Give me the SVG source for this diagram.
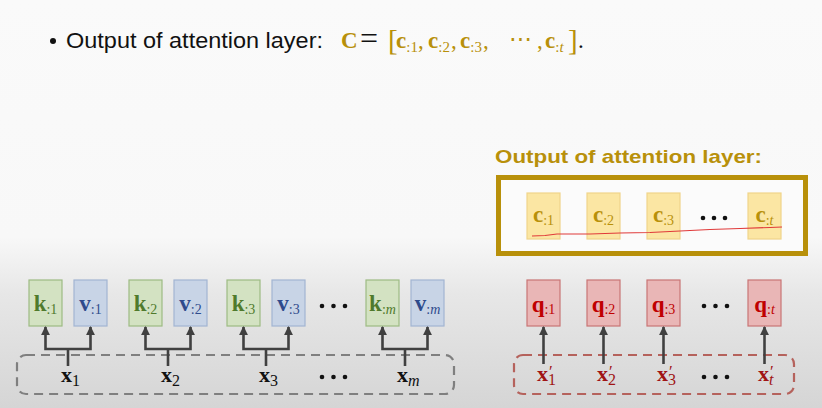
<svg xmlns="http://www.w3.org/2000/svg" width="822" height="408" viewBox="0 0 822 408">
<defs>
<linearGradient id="bg" x1="0" y1="0" x2="0" y2="408" gradientUnits="userSpaceOnUse">
<stop offset="0" stop-color="#FAFAFA"/>
<stop offset="0.58" stop-color="#F8F8F8"/>
<stop offset="0.72" stop-color="#E7E7E7"/>
<stop offset="1" stop-color="#D5D5D5"/>
</linearGradient>
<marker id="ah" viewBox="0 0 10 10" refX="9" refY="5" markerWidth="9" markerHeight="9" markerUnits="userSpaceOnUse" orient="auto">
<path d="M0,0 L10,5 L0,10 z" fill="#404040"/>
</marker>
<style>
.m{font-family:"Liberation Serif","DejaVu Serif",serif;}
.b{font-weight:bold;}
.sub{font-size:14px;font-weight:normal;}
.kb{fill:#D3E2C2;stroke:#9DBB83;stroke-width:1.2;}
.vb{fill:#C8D4E6;stroke:#A2B5D2;stroke-width:1.2;}
.qb{fill:#E9B6B6;stroke:#C97575;stroke-width:1.2;}
.cb{fill:#FBE6A3;stroke:#F0D48A;stroke-width:1.2;}
.kt{fill:#4F7A2C;font-size:23px;}
.vt{fill:#2F4B8C;font-size:23px;}
.qt{fill:#C00000;font-size:23px;}
.ct{fill:#B8900A;font-size:23px;}
.xl{fill:#111;font-size:22px;}
.xr{fill:#A01414;font-size:22px;}
.arr{fill:none;stroke:#404040;stroke-width:2.6;marker-end:url(#ah);}
.stem{fill:none;stroke:#404040;stroke-width:2.6;}
.dot{fill:#111;}
</style>
</defs>
<rect x="0" y="0" width="822" height="408" fill="url(#bg)"/>

<!-- top bullet line -->
<g id="bullet">
<circle cx="53" cy="41" r="3" fill="#111"/>
<text x="66" y="48" font-family="Liberation Sans, Arial, sans-serif" font-size="22" fill="#111" textLength="257" lengthAdjust="spacingAndGlyphs">Output of attention layer:</text>
<g class="m" font-size="23">
<text x="341" y="48" class="b" fill="#B8900A">C</text>
<text x="360" y="49" fill="#111" font-size="32">=</text>
<text x="388" y="50" fill="#B8900A" font-size="29">[</text>
<text x="396" y="48" fill="#B8900A" class="b">c<tspan class="sub" style="font-size:15px" dy="4">:1</tspan></text>
<text x="418" y="48" fill="#B8900A">,</text>
<text x="428" y="48" fill="#B8900A" class="b">c<tspan class="sub" style="font-size:15px" dy="4">:2</tspan></text>
<text x="451" y="48" fill="#B8900A">,</text>
<text x="460" y="48" fill="#B8900A" class="b">c<tspan class="sub" style="font-size:15px" dy="4">:3</tspan></text>
<text x="483" y="48" fill="#B8900A">,</text>
<text x="509" y="46" fill="#B8900A">⋯</text>
<text x="537" y="48" fill="#B8900A">,</text>
<text x="545" y="48" fill="#B8900A" class="b">c<tspan class="sub" style="font-size:15px" dy="4">:<tspan font-style="italic">t</tspan></tspan></text>
<text x="568" y="50" fill="#B8900A" font-size="29">]</text>
<text x="578" y="48" fill="#111">.</text>
</g>
</g>

<!-- output title and box -->
<g id="output-title">
<text x="495" y="163" font-family="Liberation Sans, Arial, sans-serif" font-size="19" font-weight="bold" fill="#B8900A" textLength="267" lengthAdjust="spacingAndGlyphs">Output of attention layer:</text>
</g>
<g id="output-box">
<rect x="498.5" y="177.5" width="307" height="76" fill="#FBFBFB" stroke="#B8900A" stroke-width="5"/>
</g>

<g id="c1"><rect class="cb" x="527" y="193" width="33" height="46"/><text class="m b ct" x="543.5" y="222" text-anchor="middle">c<tspan class="sub" dy="3">:1</tspan></text></g>
<g id="c2"><rect class="cb" x="587" y="193" width="33" height="46"/><text class="m b ct" x="603.5" y="222" text-anchor="middle">c<tspan class="sub" dy="3">:2</tspan></text></g>
<g id="c3"><rect class="cb" x="647" y="193" width="33" height="46"/><text class="m b ct" x="663.5" y="222" text-anchor="middle">c<tspan class="sub" dy="3">:3</tspan></text></g>
<g id="cdots"><circle class="dot" cx="703" cy="218" r="2.3"/><circle class="dot" cx="714" cy="218" r="2.3"/><circle class="dot" cx="725" cy="218" r="2.3"/></g>
<g id="ct"><rect class="cb" x="748" y="193" width="33" height="46"/><text class="m b ct" x="764.5" y="222" text-anchor="middle">c<tspan class="sub" dy="3">:<tspan font-style="italic">t</tspan></tspan></text></g>

<!-- hand-drawn red stroke -->
<path d="M532,236 L545,235.5 L557,234 L590,234 L620,233 L650,232.5 L680,231 L710,229.5 L740,228.5 L770,227.5 L782,227" fill="none" stroke="#E03A3A" stroke-width="1.2"/>

<!-- left: keys / values -->
<g id="k1"><rect class="kb" x="29" y="280" width="33" height="46"/><text class="m b kt" x="45.5" y="311" text-anchor="middle">k<tspan class="sub" dy="3">:1</tspan></text></g>
<g id="v1"><rect class="vb" x="74" y="280" width="33" height="46"/><text class="m b vt" x="90.5" y="311" text-anchor="middle">v<tspan class="sub" dy="3">:1</tspan></text></g>
<g id="k2"><rect class="kb" x="129" y="280" width="33" height="46"/><text class="m b kt" x="145.5" y="311" text-anchor="middle">k<tspan class="sub" dy="3">:2</tspan></text></g>
<g id="v2"><rect class="vb" x="174" y="280" width="33" height="46"/><text class="m b vt" x="190.5" y="311" text-anchor="middle">v<tspan class="sub" dy="3">:2</tspan></text></g>
<g id="k3"><rect class="kb" x="227" y="280" width="33" height="46"/><text class="m b kt" x="243.5" y="311" text-anchor="middle">k<tspan class="sub" dy="3">:3</tspan></text></g>
<g id="v3"><rect class="vb" x="272" y="280" width="33" height="46"/><text class="m b vt" x="288.5" y="311" text-anchor="middle">v<tspan class="sub" dy="3">:3</tspan></text></g>
<g id="kvdots"><circle class="dot" cx="322" cy="306" r="2.3"/><circle class="dot" cx="333.5" cy="306" r="2.3"/><circle class="dot" cx="345" cy="306" r="2.3"/></g>
<g id="km"><rect class="kb" x="366" y="280" width="33" height="46"/><text class="m b kt" x="382.5" y="311" text-anchor="middle">k<tspan class="sub" dy="3">:<tspan font-style="italic">m</tspan></tspan></text></g>
<g id="vm"><rect class="vb" x="411" y="280" width="33" height="46"/><text class="m b vt" x="427.5" y="311" text-anchor="middle">v<tspan class="sub" dy="3">:<tspan font-style="italic">m</tspan></tspan></text></g>

<!-- left input box -->
<g id="x-inputs">
<rect x="17" y="355" width="437" height="39" rx="9" fill="none" stroke="#7F7F7F" stroke-width="2.2" stroke-dasharray="9 6"/>
<text class="m b xl" x="61" y="382">x<tspan class="sub" style="font-size:16px" dy="4">1</tspan></text>
<text class="m b xl" x="161" y="382">x<tspan class="sub" style="font-size:16px" dy="4">2</tspan></text>
<text class="m b xl" x="259" y="382">x<tspan class="sub" style="font-size:16px" dy="4">3</tspan></text>
<circle class="dot" cx="322" cy="377" r="2.3"/><circle class="dot" cx="333.5" cy="377" r="2.3"/><circle class="dot" cx="345" cy="377" r="2.3"/>
<text class="m b xl" x="397" y="382">x<tspan class="sub" style="font-size:16px" dy="4" font-style="italic">m</tspan></text>
</g>

<!-- right: queries -->
<g id="q1"><rect class="qb" x="527" y="280" width="33" height="46"/><text class="m b qt" x="543.5" y="312" text-anchor="middle">q<tspan class="sub" dy="2">:1</tspan></text></g>
<g id="q2"><rect class="qb" x="587" y="280" width="33" height="46"/><text class="m b qt" x="603.5" y="312" text-anchor="middle">q<tspan class="sub" dy="2">:2</tspan></text></g>
<g id="q3"><rect class="qb" x="647" y="280" width="33" height="46"/><text class="m b qt" x="663.5" y="312" text-anchor="middle">q<tspan class="sub" dy="2">:3</tspan></text></g>
<g id="qdots"><circle class="dot" cx="704" cy="306" r="2.3"/><circle class="dot" cx="715.5" cy="306" r="2.3"/><circle class="dot" cx="727" cy="306" r="2.3"/></g>
<g id="qt"><rect class="qb" x="748" y="280" width="33" height="46"/><text class="m b qt" x="764.5" y="312" text-anchor="middle">q<tspan class="sub" dy="2">:<tspan font-style="italic">t</tspan></tspan></text></g>

<g id="xprime-inputs">
<rect x="514" y="355" width="280" height="39" rx="9" fill="none" stroke="#B5625C" stroke-width="2.2" stroke-dasharray="9 6"/>
<text class="m b xr" x="537" y="381">x<tspan class="sub" style="font-size:17px" x="549" dy="-4">′</tspan><tspan class="sub" style="font-size:16px" x="548" dy="8">1</tspan></text>
<text class="m b xr" x="597" y="381">x<tspan class="sub" style="font-size:17px" x="609" dy="-4">′</tspan><tspan class="sub" style="font-size:16px" x="608" dy="8">2</tspan></text>
<text class="m b xr" x="657" y="381">x<tspan class="sub" style="font-size:17px" x="669" dy="-4">′</tspan><tspan class="sub" style="font-size:16px" x="668" dy="8">3</tspan></text>
<circle class="dot" cx="704" cy="377" r="2.3"/><circle class="dot" cx="715.5" cy="377" r="2.3"/><circle class="dot" cx="727" cy="377" r="2.3"/>
<text class="m b xr" x="758" y="381">x<tspan class="sub" style="font-size:17px" x="770" dy="-4">′</tspan><tspan class="sub" style="font-size:16px" x="769" dy="8" font-style="italic">t</tspan></text>
</g>

<!-- connectors -->
<g id="connectors">
<path class="stem" d="M68,366 V349"/><path class="arr" d="M68,349 H45.5 V327"/><path class="arr" d="M68,349 H90.5 V327"/>
<path class="stem" d="M168,366 V349"/><path class="arr" d="M168,349 H145.5 V327"/><path class="arr" d="M168,349 H190.5 V327"/>
<path class="stem" d="M266,366 V349"/><path class="arr" d="M266,349 H243.5 V327"/><path class="arr" d="M266,349 H288.5 V327"/>
<path class="stem" d="M405,366 V349"/><path class="arr" d="M405,349 H382.5 V327"/><path class="arr" d="M405,349 H427.5 V327"/>
<path class="arr" d="M543.5,364 V327"/>
<path class="arr" d="M603.5,364 V327"/>
<path class="arr" d="M663.5,364 V327"/>
<path class="arr" d="M764.5,364 V327"/>
</g>
</svg>
